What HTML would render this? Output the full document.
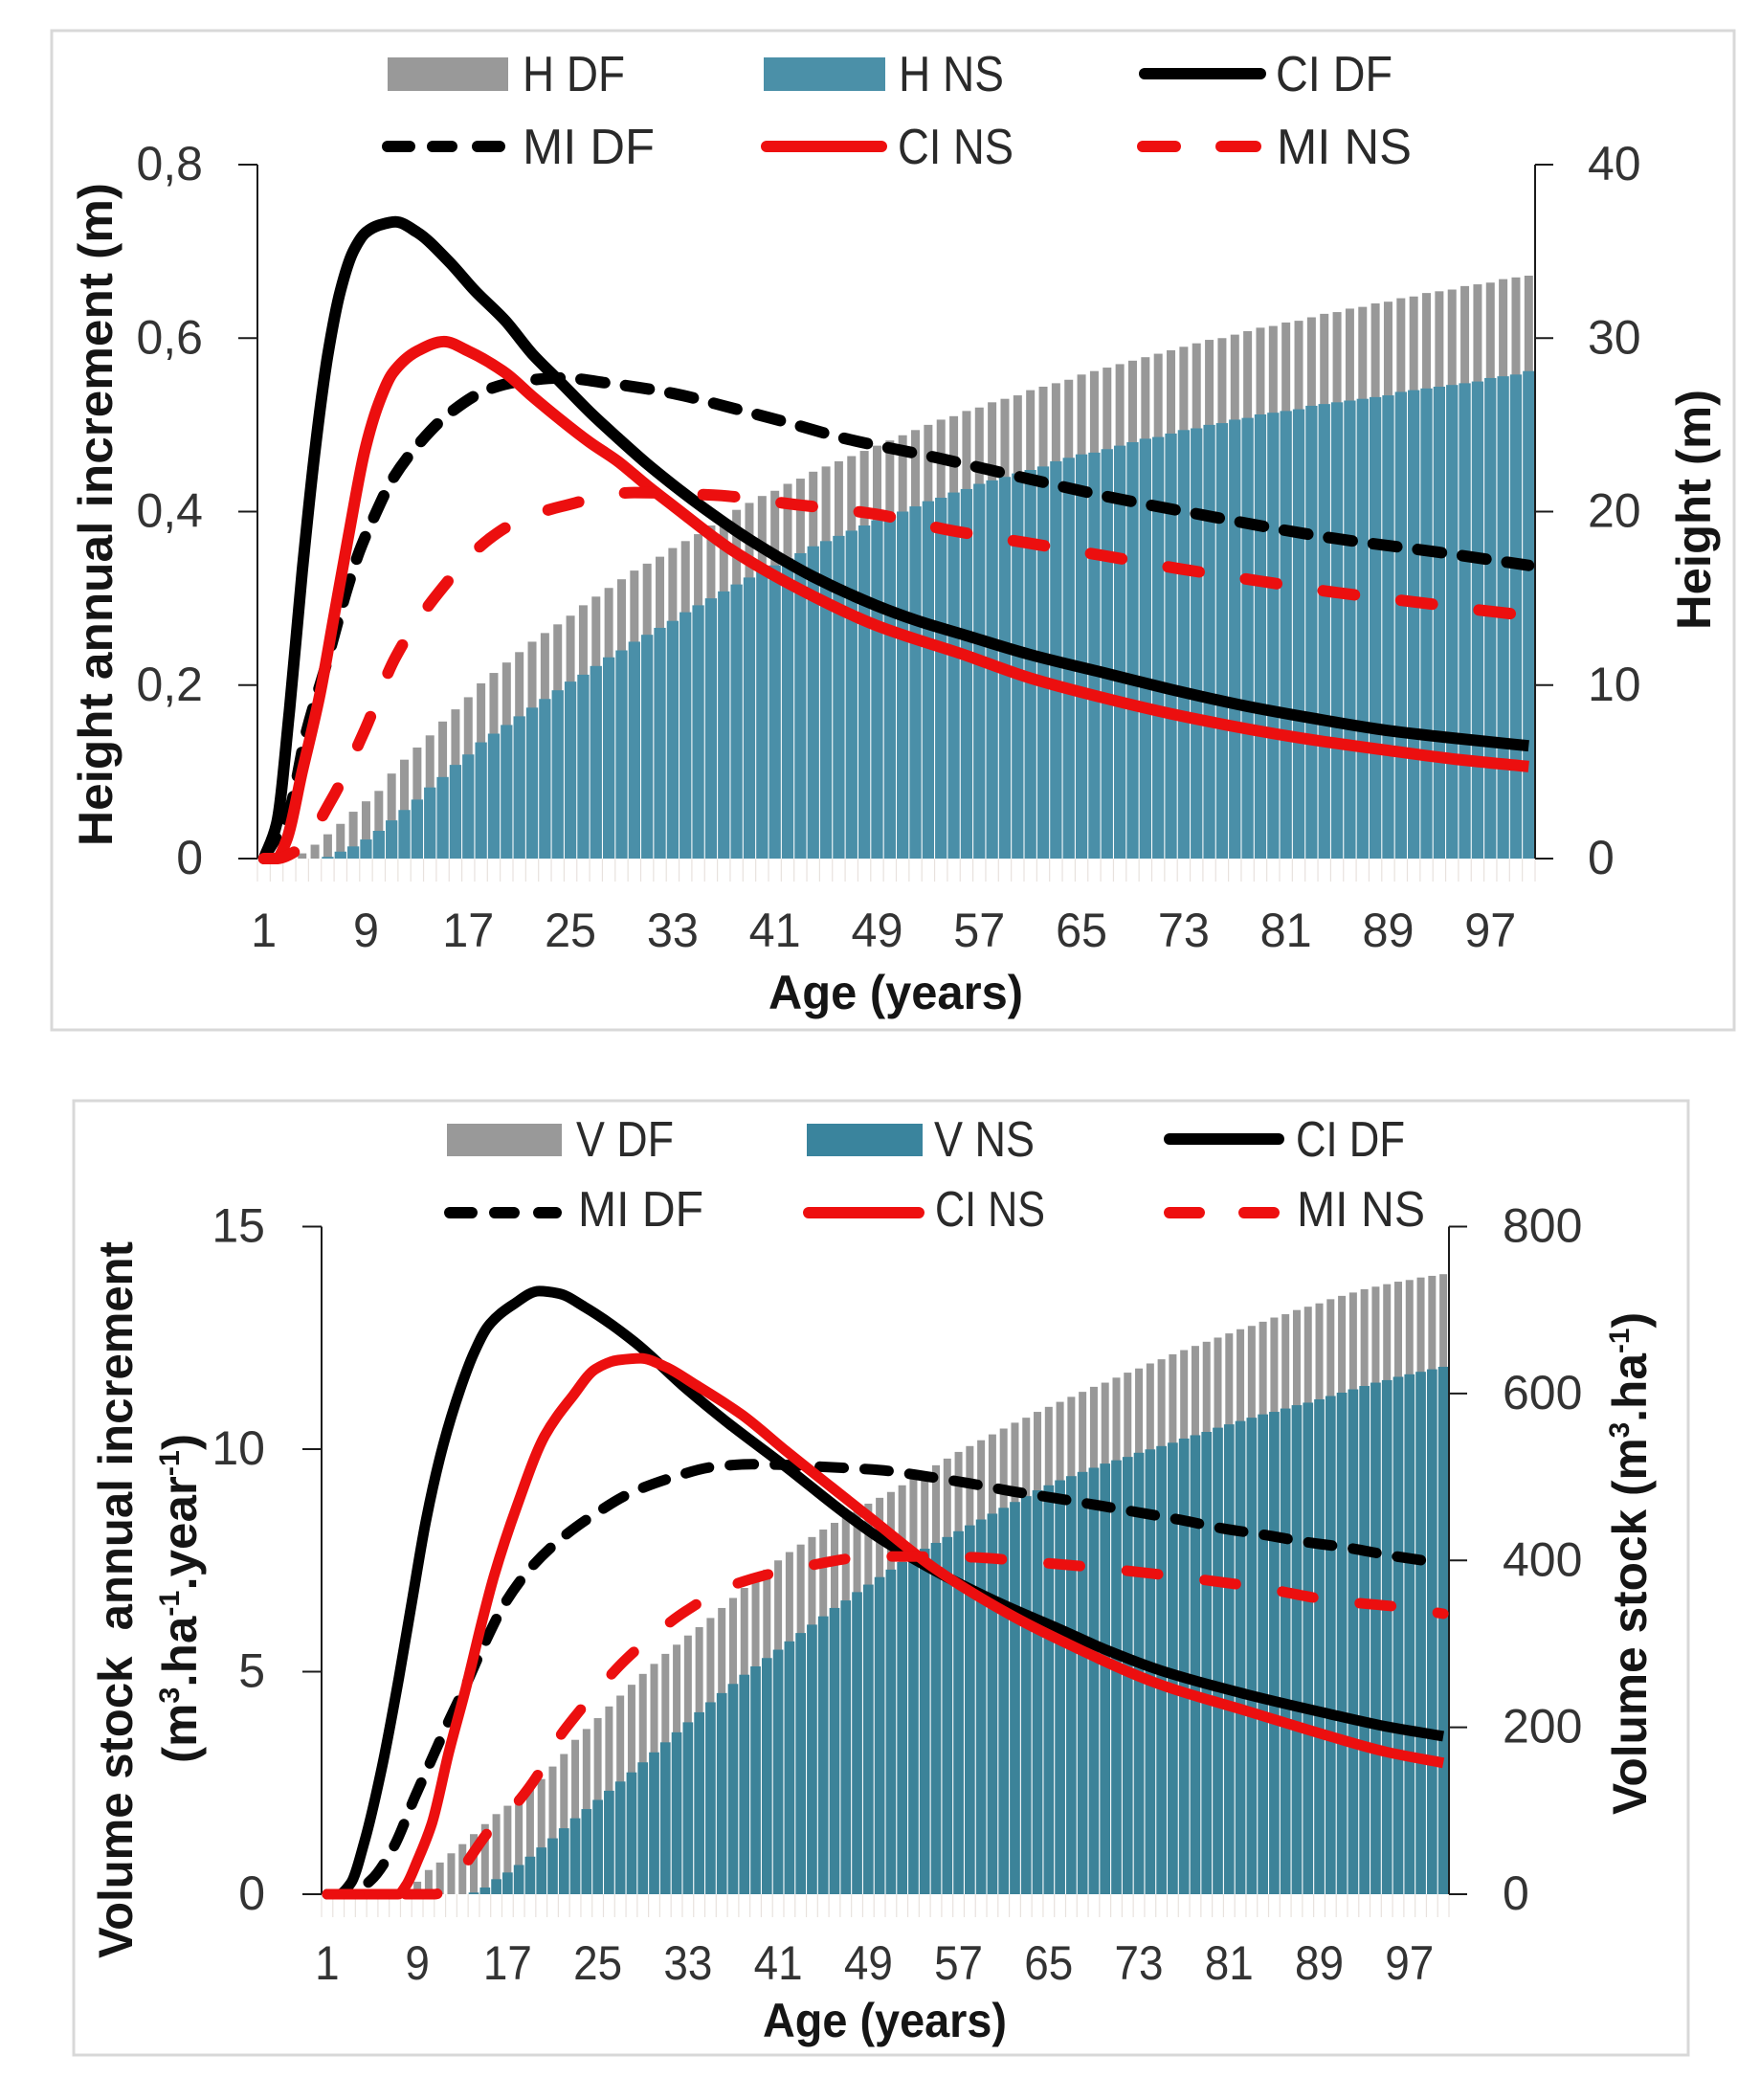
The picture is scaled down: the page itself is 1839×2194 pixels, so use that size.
<!DOCTYPE html>
<html lang="en">
<head>
<meta charset="utf-8">
<title>Height and volume stock increment charts</title>
<style>
html,body{margin:0;padding:0;background:#fff;}
svg{display:block;}
text{font-family:"Liberation Sans",sans-serif;}
.tick{font-size:50px;fill:#333;}
.leg{font-size:52px;fill:#2a2a2a;}
.title{font-size:50px;font-weight:bold;fill:#151515;}
</style>
</head>
<body>
<svg id="figure" xmlns="http://www.w3.org/2000/svg" width="1839" height="2194" viewBox="0 0 1839 2194">
  <rect width="1839" height="2194" fill="#fff"/>

  <g id="chart-height">
    <rect x="54" y="32" width="1758" height="1044" fill="#fff" stroke="#d8d8d8" stroke-width="3"/>
    <g id="plot-height"></g>
    <text class="title" transform="translate(117,884) rotate(-90)" textLength="693" lengthAdjust="spacingAndGlyphs">Height annual increment (m)</text>
    <text class="title" transform="translate(1787,658) rotate(-90)" textLength="251" lengthAdjust="spacingAndGlyphs">Height (m)</text>
    <text class="title" x="803" y="1054" textLength="266" lengthAdjust="spacingAndGlyphs">Age (years)</text>

    <g>
      <rect x="405" y="60" width="126" height="35" fill="#999"/>
      <text class="leg" x="546" y="95" textLength="107" lengthAdjust="spacingAndGlyphs">H DF</text>
      <rect x="798" y="60" width="127" height="35" fill="#4b90a8"/>
      <text class="leg" x="939" y="95" textLength="110" lengthAdjust="spacingAndGlyphs">H NS</text>
      <line x1="1196" y1="77" x2="1317" y2="77" stroke="#000" stroke-width="12" stroke-linecap="round"/>
      <text class="leg" x="1333" y="95" textLength="122" lengthAdjust="spacingAndGlyphs">CI DF</text>
      <g stroke="#000" stroke-width="12" stroke-linecap="round">
        <line x1="405" y1="153" x2="428" y2="153"/>
        <line x1="452" y1="153" x2="472" y2="153"/>
        <line x1="499" y1="153" x2="522" y2="153"/>
      </g>
      <text class="leg" x="546" y="171" textLength="138" lengthAdjust="spacingAndGlyphs">MI DF</text>
      <line x1="801" y1="153" x2="921" y2="153" stroke="#ee0f0f" stroke-width="12" stroke-linecap="round"/>
      <text class="leg" x="938" y="171" textLength="121" lengthAdjust="spacingAndGlyphs">CI NS</text>
      <g stroke="#ee0f0f" stroke-width="12" stroke-linecap="round">
        <line x1="1194" y1="153" x2="1228" y2="153"/>
        <line x1="1276" y1="153" x2="1312" y2="153"/>
      </g>
      <text class="leg" x="1334" y="171" textLength="141" lengthAdjust="spacingAndGlyphs">MI NS</text>
    </g>
  </g>

  <g id="chart-volume">
    <rect x="77" y="1150" width="1687" height="997" fill="#fff" stroke="#d8d8d8" stroke-width="3"/>
    <g id="plot-volume"></g>
    <text class="title" transform="translate(138,2046) rotate(-90)" textLength="749" lengthAdjust="spacingAndGlyphs" xml:space="preserve">Volume stock  annual increment</text>
    <text class="title" transform="translate(205,1842) rotate(-90)" textLength="344" lengthAdjust="spacingAndGlyphs">(m<tspan font-size="30" dy="-18">3</tspan><tspan dy="18">.ha</tspan><tspan font-size="30" dy="-18">-1</tspan><tspan dy="18">.year</tspan><tspan font-size="30" dy="-18">-1</tspan><tspan dy="18">)</tspan></text>
    <text class="title" transform="translate(1720,1896) rotate(-90)" textLength="525" lengthAdjust="spacingAndGlyphs">Volume stock (m<tspan font-size="30" dy="-18">3</tspan><tspan dy="18">.ha</tspan><tspan font-size="30" dy="-18">-1</tspan><tspan dy="18">)</tspan></text>
    <text class="title" x="797" y="2128" textLength="255" lengthAdjust="spacingAndGlyphs">Age (years)</text>

    <g>
      <rect x="467" y="1174" width="120" height="34" fill="#999"/>
      <text class="leg" x="602" y="1208" textLength="102" lengthAdjust="spacingAndGlyphs">V DF</text>
      <rect x="843" y="1174" width="121" height="34" fill="#3a849d"/>
      <text class="leg" x="976" y="1208" textLength="105" lengthAdjust="spacingAndGlyphs">V NS</text>
      <line x1="1222" y1="1190" x2="1336" y2="1190" stroke="#000" stroke-width="12" stroke-linecap="round"/>
      <text class="leg" x="1354" y="1208" textLength="114" lengthAdjust="spacingAndGlyphs">CI DF</text>
      <g stroke="#000" stroke-width="12" stroke-linecap="round">
        <line x1="470" y1="1267" x2="493" y2="1267"/>
        <line x1="517" y1="1267" x2="537" y2="1267"/>
        <line x1="563" y1="1267" x2="581" y2="1267"/>
      </g>
      <text class="leg" x="604" y="1281" textLength="131" lengthAdjust="spacingAndGlyphs">MI DF</text>
      <line x1="845" y1="1267" x2="960" y2="1267" stroke="#ee0f0f" stroke-width="12" stroke-linecap="round"/>
      <text class="leg" x="977" y="1281" textLength="115" lengthAdjust="spacingAndGlyphs">CI NS</text>
      <g stroke="#ee0f0f" stroke-width="12" stroke-linecap="round">
        <line x1="1222" y1="1267" x2="1253" y2="1267"/>
        <line x1="1300" y1="1267" x2="1331" y2="1267"/>
      </g>
      <text class="leg" x="1355" y="1281" textLength="134" lengthAdjust="spacingAndGlyphs">MI NS</text>
    </g>
  </g>
</svg>

<script>
/* ---------- Height chart data ---------- */
const heightXTicks = [1,9,17,25,33,41,49,57,65,73,81,89,97];
const heightLeftTicks = [0,0.2,0.4,0.6,0.8];
const heightRightTicks = [0,10,20,30,40];

const hDfBars = [
0,0,0,0.3,0.8,1.4,2.0,2.7,3.3,3.9,
4.9,5.7,6.4,7.1,7.9,8.6,9.3,10.1,10.7,11.3,
11.9,12.5,13.0,13.5,14.0,14.6,15.1,15.6,16.1,16.6,
17.0,17.4,17.9,18.3,18.7,19.2,19.6,20.1,20.5,20.9,
21.2,21.6,21.9,22.3,22.6,22.9,23.2,23.5,23.8,24.1,
24.4,24.7,25.0,25.3,25.5,25.8,26.0,26.3,26.5,26.7,
27.0,27.2,27.4,27.6,27.9,28.1,28.3,28.5,28.7,28.9,
29.1,29.3,29.5,29.7,29.9,30.0,30.2,30.4,30.6,30.7,
30.9,31.0,31.2,31.4,31.5,31.7,31.8,32.0,32.1,32.3,
32.4,32.6,32.7,32.8,33.0,33.1,33.2,33.4,33.5,33.6];

const hNsBars = [
0,0,0,0,0,0.1,0.4,0.7,1.1,1.6,
2.2,2.8,3.4,4.1,4.7,5.4,6.0,6.7,7.2,7.7,
8.2,8.7,9.2,9.7,10.2,10.6,11.1,11.6,12.0,12.5,
12.9,13.3,13.7,14.2,14.6,15.0,15.4,15.8,16.2,16.6,
16.9,17.3,17.6,18.0,18.3,18.6,18.9,19.2,19.5,19.8,
20.0,20.3,20.6,20.8,21.1,21.3,21.6,21.8,22.0,22.2,
22.4,22.6,22.9,23.1,23.3,23.4,23.6,23.8,24.0,24.2,
24.3,24.5,24.7,24.8,25.0,25.1,25.3,25.4,25.6,25.7,
25.8,25.9,26.1,26.2,26.3,26.4,26.5,26.6,26.7,26.9,
27.0,27.1,27.2,27.3,27.4,27.5,27.7,27.8,27.9,28.1];

const hCiDfAges = [1,2,3,4,5,6,7,8,9,10,11.3,13,15.5,17.5,19.9,22,24.3,26.5,28.7,31,33.1,36,39.2,44,48.9,52,55.8,61,66.8,72,77.8,83,88.8,94,100];
const hCiDfValues = [0,0.04,0.17,0.33,0.47,0.58,0.655,0.7,0.722,0.73,0.734,0.722,0.688,0.655,0.62,0.582,0.548,0.515,0.485,0.455,0.43,0.398,0.366,0.325,0.292,0.275,0.258,0.235,0.214,0.195,0.176,0.162,0.148,0.139,0.13];

const hCiNsAges = [1,2,2.75,4,5.4,6.5,7.6,8.9,10,11.1,13,15.1,17,19.9,22,24.3,26.5,28.7,31,33.1,37.5,43,48.9,55.8,61,66.8,72,77.8,83,88.8,94,100];
const hCiNsValues = [0,0,0.02,0.1,0.19,0.28,0.37,0.47,0.525,0.56,0.585,0.596,0.585,0.56,0.533,0.505,0.48,0.458,0.43,0.406,0.357,0.31,0.269,0.235,0.208,0.185,0.167,0.15,0.137,0.125,0.115,0.106];

const hMiDfAges = [1,3,4.3,5.8,7.6,8.5,9.6,11.1,13.3,15.5,18.6,21,24.3,28,33.1,37.5,41.9,46.3,53.7,60.2,66.8,73.8,84.4,93,100];
const hMiDfValues = [0,0.056,0.144,0.22,0.315,0.355,0.393,0.438,0.481,0.513,0.541,0.55,0.554,0.548,0.536,0.52,0.503,0.485,0.462,0.44,0.418,0.398,0.37,0.353,0.338];

const hMiNsAges = [1,2,3.65,6.3,8.9,11.3,14.7,18.6,21,24.3,30,36.2,42.7,48.9,54.5,60.7,66.8,72.7,78.9,84.8,91,97,100];
const hMiNsValues = [0,0,0.01,0.068,0.148,0.232,0.307,0.368,0.39,0.406,0.422,0.419,0.408,0.397,0.379,0.364,0.349,0.334,0.32,0.307,0.296,0.285,0.28];

/* ---------- Volume chart data ---------- */
const volumeXTicks = [1,9,17,25,33,41,49,57,65,73,81,89,97];
const volumeLeftTicks = [0,5,10,15];
const volumeRightTicks = [0,200,400,600,800];

const vDfBars = [
0,0,0,0,0,0,0,4,15,29,
38,49,60,72,84,96,106,117,127,138,
153,168,185,198,211,225,238,251,264,276,
288,299,310,320,331,343,355,367,378,389,
400,410,419,428,437,445,453,461,468,475,
482,490,498,506,514,522,530,537,544,551,
558,565,571,578,584,590,596,602,608,613,
619,625,630,636,641,647,652,657,662,667,
672,677,681,686,691,695,700,704,708,713,
717,721,725,728,731,734,736,739,741,743];

const vNsBars = [
0,0,0,0,0,0,0,0,0,0,
0,0,0,2,8,18,26,35,45,56,
67,79,91,102,113,124,135,146,158,170,
182,194,206,218,230,241,252,263,273,283,
293,303,313,323,333,343,352,362,371,380,
389,398,406,414,421,428,435,442,449,456,
463,470,477,484,490,496,501,506,511,516,
520,524,529,533,537,541,546,550,554,559,
563,567,571,575,578,582,586,589,593,597,
601,605,609,613,616,620,623,626,629,632];

const vCiDfAges = [1,2,3.1,4.3,5.85,7.35,8.6,9.8,11.3,12.8,14,15.3,17.5,19.8,21.5,23.8,28.3,32.8,36.7,41.7,46.7,50,55.4,61,66,70,74.9,82.4,89.9,94.9,100];
const vCiDfValues = [0,0,0.25,1.18,2.84,4.85,6.7,8.45,10.1,11.35,12.15,12.77,13.25,13.55,13.5,13.2,12.4,11.37,10.56,9.6,8.6,8.0,7.2,6.5,5.95,5.5,5.03,4.5,4.05,3.77,3.55];

const vCiNsAges = [1,7.3,8,9,10.3,11.8,13.3,14.8,15.8,17.8,20.3,22.8,24.8,26.8,28.8,31,33.7,37.8,41.7,45.7,49.2,55,61.5,66,74.9,82.4,89.9,94.9,100];
const vCiNsValues = [0,0,0.2,0.75,1.6,3.2,4.63,6.2,7.15,8.7,10.3,11.2,11.8,12.0,12.04,11.85,11.44,10.77,9.96,9.15,8.45,7.3,6.29,5.71,4.71,4.13,3.55,3.2,2.95];

const vMiDfAges = [1,3,4.9,6.85,8.8,10.3,11.8,13.3,14.8,16.8,19.3,21.8,24.8,27.8,31.7,35.2,38.7,46.7,50,54.3,58,61.8,65.3,69.3,72.9,76.7,80.4,84.2,87.9,91.6,95.3,99.8];
const vMiDfValues = [0,0,0.32,1.04,2.2,3.05,3.9,4.7,5.55,6.55,7.4,8.0,8.55,9.0,9.37,9.6,9.66,9.58,9.53,9.38,9.23,9.05,8.91,8.74,8.58,8.41,8.22,8.07,7.91,7.78,7.61,7.44];

const vMiNsAges = [1,10.5,11.5,13.3,15.3,17.8,19.8,21.3,23.2,25.5,27.5,30.5,32.8,36.7,42.7,49.7,57,63.8,70.4,76.9,83.7,89.9,96.9,100];
const vMiNsValues = [0,0,0.1,0.69,1.4,2.04,2.73,3.42,4.06,4.74,5.28,5.93,6.36,6.92,7.33,7.59,7.58,7.46,7.31,7.12,6.89,6.61,6.43,6.3];

/* ---------- Drawing helpers ---------- */
const SVG_NS = 'http://www.w3.org/2000/svg';
function make(tag, parent, attrs) {
  const el = document.createElementNS(SVG_NS, tag);
  for (const k in attrs) el.setAttribute(k, attrs[k]);
  parent.appendChild(el);
  return el;
}
/* Monotone cubic path through the plotted points */
function smoothPath(pts) {
  const n = pts.length, h = [], s = [], m = [];
  for (let i = 0; i < n - 1; i++) {
    h[i] = pts[i + 1][0] - pts[i][0];
    s[i] = (pts[i + 1][1] - pts[i][1]) / h[i];
  }
  m[0] = s[0];
  m[n - 1] = s[n - 2];
  for (let i = 1; i < n - 1; i++) {
    if (s[i - 1] * s[i] <= 0) { m[i] = 0; continue; }
    const w1 = 2 * h[i] + h[i - 1], w2 = h[i] + 2 * h[i - 1];
    m[i] = (w1 + w2) / (w1 / s[i - 1] + w2 / s[i]);
  }
  let d = 'M' + pts[0][0].toFixed(1) + ' ' + pts[0][1].toFixed(1);
  for (let i = 0; i < n - 1; i++) {
    const c1x = pts[i][0] + h[i] / 3, c1y = pts[i][1] + m[i] * h[i] / 3;
    const c2x = pts[i + 1][0] - h[i] / 3, c2y = pts[i + 1][1] - m[i + 1] * h[i] / 3;
    d += 'C' + c1x.toFixed(1) + ' ' + c1y.toFixed(1) + ' ' + c2x.toFixed(1) + ' ' + c2y.toFixed(1) + ' ' + pts[i + 1][0].toFixed(1) + ' ' + pts[i + 1][1].toFixed(1);
  }
  return d;
}

function renderChart(c) {
  const g = document.getElementById(c.target);
  const band = (c.right - c.left) / c.dfBars.length;
  const xAge = a => c.left + (a - 0.5) * band;
  const yLeft = v => c.base - v / c.leftMax * (c.base - c.top);
  const yRight = v => c.base - v / c.rightMax * (c.base - c.top);

  /* faint category ticks below the baseline */
  for (let i = 0; i <= c.dfBars.length; i++) {
    const tk = make('line', g, {x1: c.left + i * band, x2: c.left + i * band, y1: c.base, y2: c.base + 24, stroke: '#e8e2de', 'stroke-width': 1.2});
    
    
  }

  /* bars */
  c.dfBars.forEach((v, i) => {
    const b = make('rect', g, {x: xAge(i + 1) - c.dfW / 2, y: yRight(v), width: c.dfW, height: c.base - yRight(v), fill: '#989898'});
    
    
  });
  c.nsBars.forEach((v, i) => {
    const b = make('rect', g, {x: xAge(i + 1) - c.nsW / 2, y: yRight(v), width: c.nsW, height: c.base - yRight(v), fill: c.nsColor});
    
    
  });

  /* axes */
  const axisL = make('line', g, {x1: c.left, x2: c.left, y1: c.top, y2: c.base, stroke: '#1c1c1c', 'stroke-width': 2});
  
  
  const axisR = make('line', g, {x1: c.right, x2: c.right, y1: c.top, y2: c.base, stroke: '#1c1c1c', 'stroke-width': 2});
  
  

  c.leftTicks.forEach(v => {
    const tk = make('line', g, {x1: c.left - 20, x2: c.left, y1: yLeft(v), y2: yLeft(v), stroke: '#1c1c1c', 'stroke-width': 2});
    
    
    const t = make('text', g, {x: c.leftLabelX, y: yLeft(v) + 16, 'text-anchor': 'end', class: 'tick'});
    
    
    t.textContent = String(v).replace('.', ',');
  });
  c.rightTicks.forEach(v => {
    const tk = make('line', g, {x1: c.right, x2: c.right + 19, y1: yRight(v), y2: yRight(v), stroke: '#1c1c1c', 'stroke-width': 2});
    
    
    const t = make('text', g, {x: c.rightLabelX, y: yRight(v) + 16, class: 'tick'});
    
    
    t.textContent = String(v);
  });
  c.xTicks.forEach(a => {
    const s = String(a);
    const t = make('text', g, {x: xAge(a) + c.xLabelShift, y: c.xLabelY, 'text-anchor': 'middle', class: 'tick', textLength: s.length * c.digitW, lengthAdjust: 'spacingAndGlyphs'});
    
    
    t.textContent = s;
  });

  /* lines */
  const drawLine = (ages, vals, color, width, dash, offset, name) => {
    const pts = ages.map((a, i) => [xAge(a), yLeft(vals[i])]);
    const p = make('path', g, {d: smoothPath(pts), fill: 'none', stroke: color, 'stroke-width': width, 'stroke-linejoin': 'round', 'stroke-linecap': dash ? 'round' : 'butt'});
    if (dash) {
      p.setAttribute('stroke-dasharray', dash);
      p.setAttribute('stroke-dashoffset', offset);
    }
    
    
  };
  const BLACK = '#000', RED = '#ec0f0f';
  drawLine(c.ciDf[0], c.ciDf[1], BLACK, c.lineW, null, 0, c.prefix + '-ci-df-line');
  drawLine(c.miDf[0], c.miDf[1], BLACK, c.lineW, '25 22', c.miDfOffset, c.prefix + '-mi-df-line');
  drawLine(c.ciNs[0], c.ciNs[1], RED, c.lineW, null, 0, c.prefix + '-ci-ns-line');
  drawLine(c.miNs[0], c.miNs[1], RED, c.lineW, '33 49', c.miNsOffset, c.prefix + '-mi-ns-line');
}

renderChart({
  target: 'plot-height', prefix: 'height',
  left: 269, right: 1604, top: 172, base: 897,
  leftMax: 0.8, rightMax: 40,
  dfBars: hDfBars, nsBars: hNsBars, dfW: 9, nsW: 12.3, nsColor: '#4a8fa8',
  leftTicks: heightLeftTicks, rightTicks: heightRightTicks, xTicks: heightXTicks,
  leftLabelX: 212, rightLabelX: 1659, xLabelY: 989, xLabelShift: 0, digitW: 27,
  ciDf: [hCiDfAges, hCiDfValues], ciNs: [hCiNsAges, hCiNsValues],
  miDf: [hMiDfAges, hMiDfValues], miNs: [hMiNsAges, hMiNsValues],
  lineW: 12, miDfOffset: 0, miNsOffset: 0
});

renderChart({
  target: 'plot-volume', prefix: 'volume',
  left: 336, right: 1514, top: 1281.5, base: 1979,
  leftMax: 15, rightMax: 800,
  dfBars: vDfBars, nsBars: vNsBars, dfW: 8, nsW: 10.7, nsColor: '#3c8399',
  leftTicks: volumeLeftTicks, rightTicks: volumeRightTicks, xTicks: volumeXTicks,
  leftLabelX: 277, rightLabelX: 1570, xLabelY: 2068, xLabelShift: 0, digitW: 25.5,
  ciDf: [vCiDfAges, vCiDfValues], ciNs: [vCiNsAges, vCiNsValues],
  miDf: [vMiDfAges, vMiDfValues], miNs: [vMiNsAges, vMiNsValues],
  lineW: 11, miDfOffset: 0, miNsOffset: 0
});
</script>
</body>
</html>
